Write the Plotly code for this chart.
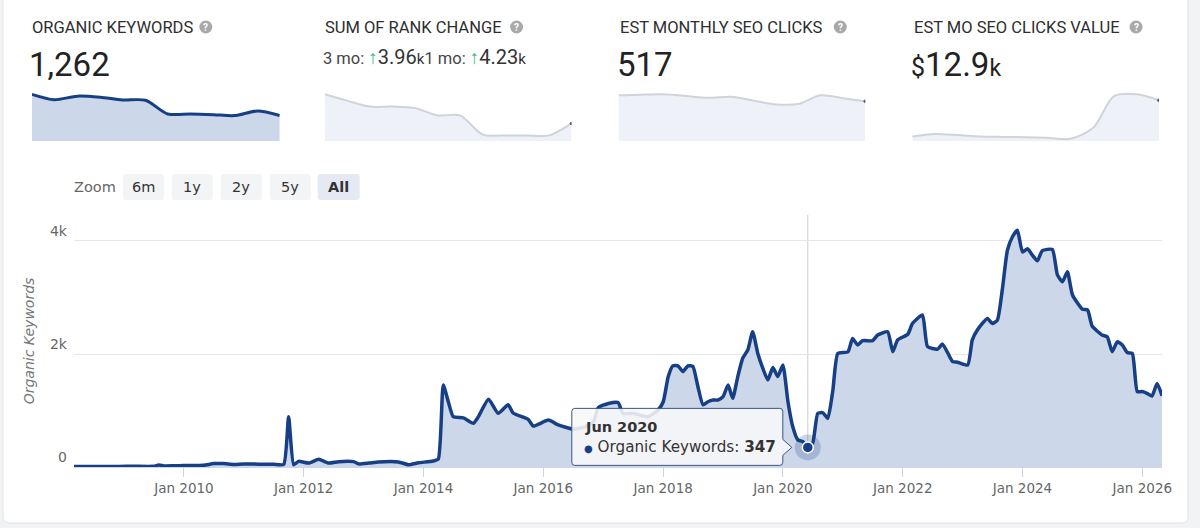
import plotly.graph_objects as go

W, H = 1200, 528
W_EFF = 1191  # horizontal pixel scale observed in the rendered page

# ---------------- data ----------------
dates = [
    "2008-03", "2008-06", "2008-09", "2008-12", "2009-03", "2009-07", "2009-08", "2009-09", "2009-11",
    "2010-01", "2010-05", "2010-07", "2010-09", "2010-11", "2011-01", "2011-04", "2011-07", "2011-09",
    "2011-10", "2011-11", "2011-12", "2012-02", "2012-04", "2012-06", "2012-08", "2012-11", "2012-12",
    "2013-02", "2013-04", "2013-08", "2013-10", "2013-12", "2014-03", "2014-04", "2014-05", "2014-06",
    "2014-07", "2014-09", "2014-11", "2014-12", "2015-02", "2015-04", "2015-06", "2015-07", "2015-10",
    "2015-11", "2016-02", "2016-04", "2016-07", "2016-09", "2016-11", "2016-12", "2017-02", "2017-04",
    "2017-05", "2017-07", "2017-10", "2017-12", "2018-01", "2018-02", "2018-03", "2018-04", "2018-05",
    "2018-06", "2018-07", "2018-08", "2018-09", "2018-10", "2018-11", "2018-12", "2019-01", "2019-02",
    "2019-03", "2019-04", "2019-05", "2019-06", "2019-07", "2019-08", "2019-09", "2019-10", "2019-11",
    "2019-12", "2020-01", "2020-02", "2020-03", "2020-04", "2020-05", "2020-06", "2020-07", "2020-08",
    "2020-09", "2020-10", "2020-11", "2020-12", "2021-02", "2021-03", "2021-04", "2021-05", "2021-07",
    "2021-08", "2021-10", "2021-11", "2021-12", "2022-02", "2022-03", "2022-05", "2022-06", "2022-08",
    "2022-09", "2022-11", "2022-12", "2023-02", "2023-03", "2023-04", "2023-06", "2023-07", "2023-08",
    "2023-09", "2023-10", "2023-11", "2023-12", "2024-01", "2024-02", "2024-03", "2024-04", "2024-05",
    "2024-07", "2024-08", "2024-09", "2024-10", "2024-11", "2025-01", "2025-02", "2025-03", "2025-05",
    "2025-06", "2025-07", "2025-08", "2025-09", "2025-10", "2025-11", "2025-12", "2026-01", "2026-02",
    "2026-03", "2026-04", "2026-05",
]
organic_keywords = [
    10, 8, 10, 10, 12, 12, 35, 20, 22,
    25, 30, 60, 60, 45, 55, 50, 48, 45,
    890, 40, 100, 70, 135, 70, 95, 95, 55,
    70, 90, 90, 40, 75, 105, 140, 1450, 1155,
    890, 870, 775, 890, 1200, 950, 1100, 955, 845,
    725, 830, 745, 670, 700, 800, 1050, 1125, 1140,
    950, 950, 890, 1010, 1150, 1600, 1790, 1790, 1690,
    1790, 1780, 1420, 1100, 1155, 1185, 1185, 1245, 1450,
    1215, 1600, 1925, 2070, 2395, 2010, 1745, 1540, 1760,
    1600, 1805, 1155, 715, 480, 450, 347, 425, 950,
    960, 860, 1360, 2010, 2040, 2275, 2160, 2235, 2235,
    2335, 2395, 2040, 2250, 2350, 2540, 2690, 2130, 2085,
    2175, 1865, 1855, 1805, 2250, 2425, 2630, 2540, 2600,
    3160, 3835, 4075, 4190, 3805, 3865, 3750, 3650, 3830,
    3850, 3400, 3280, 3455, 3045, 2790, 2780, 2495, 2335,
    2305, 2040, 2215, 2160, 2025, 2010, 1335, 1335, 1300,
    1255, 1480, 1262,
]

x_tick_vals = ["2010-01", "2012-01", "2014-01", "2016-01", "2018-01", "2020-01", "2022-01", "2024-01", "2026-01"]
x_tick_labels = ["Jan 2010", "Jan 2012", "Jan 2014", "Jan 2016", "Jan 2018", "Jan 2020", "Jan 2022", "Jan 2024", "Jan 2026"]
y_tick_vals = [0, 2000, 4000]
y_tick_labels = ["0", "2k", "4k"]

# KPI sparklines (last 12 months)
rank_change_spark = [13.3, 11.5, 9.8, 9.8, 9.4, 7.3, 7.3, 1.8, 1.6, 1.6, 1.6, 5.0]
seo_clicks_spark = [595, 604, 608, 586, 563, 577, 526, 476, 485, 595, 558, 517]
clicks_value_spark = [1.4, 2.2, 1.9, 1.4, 1.3, 1.2, 1.0, 0.7, 4.2, 14.2, 14.8, 12.9]

kpi_titles = ["ORGANIC KEYWORDS", "SUM OF RANK CHANGE", "EST MONTHLY SEO CLICKS", "EST MO SEO CLICKS VALUE"]
rank_change_3mo = "3.96"
rank_change_1mo = "4.23"
zoom_buttons = ["6m", "1y", "2y", "5y", "All"]

highlight_date = "2020-06"

# ---------------- helpers ----------------
def X(px):
    return px / W_EFF

def Y(py):
    return 1 - py / H

def rrect_path(x0, y0, x1, y1, r):
    pts = [
        ("M", [(x0 + r, y0)]), ("L", [(x1 - r, y0)]), ("Q", [(x1, y0), (x1, y0 + r)]),
        ("L", [(x1, y1 - r)]), ("Q", [(x1, y1), (x1 - r, y1)]), ("L", [(x0 + r, y1)]),
        ("Q", [(x0, y1), (x0, y1 - r)]), ("L", [(x0, y0 + r)]), ("Q", [(x0, y0), (x0 + r, y0)]),
    ]
    s = ""
    for cmd, ps in pts:
        s += cmd + " " + " ".join(f"{X(a):.5f},{Y(b):.5f}" for a, b in ps) + " "
    return s + "Z"

LINE = "#173f85"
FILL = "#ccd7ea"
KFONT = "Roboto"
CFONT = "DejaVu Sans"

fig = go.Figure()

# main area
fig.add_trace(go.Scatter(
    x=dates, y=organic_keywords, mode="lines", fill="tozeroy",
    line=dict(color=LINE, width=3.5, shape="spline", smoothing=0.5),
    fillcolor=FILL, hoverinfo="skip", xaxis="x", yaxis="y",
))

hi = dates.index(highlight_date)
fig.add_trace(go.Scatter(
    x=[dates[hi]], y=[organic_keywords[hi]], mode="markers",
    marker=dict(size=26, color="rgba(23,63,133,0.22)"), hoverinfo="skip",
))
fig.add_trace(go.Scatter(
    x=[dates[hi]], y=[organic_keywords[hi]], mode="markers",
    marker=dict(size=11, color=LINE, line=dict(color="white", width=1.5)), hoverinfo="skip",
))

# sparklines
sd = dates[-12:]
spark_sets = [
    (organic_keywords[-12:], LINE, FILL, 3, False),
    (rank_change_spark, "#cfd3da", "#eef1f8", 2, True),
    (seo_clicks_spark, "#cfd3da", "#eef1f8", 2, True),
    (clicks_value_spark, "#cfd3da", "#eef1f8", 2, True),
]
spark_x = [(32, 280), (325, 572), (619, 866), (913, 1160)]
for i, (vals, lc, fc, lw, dot) in enumerate(spark_sets):
    ax = i + 2
    fig.add_trace(go.Scatter(
        x=sd, y=vals, mode="lines", fill="tozeroy",
        line=dict(color=lc, width=lw, shape="spline", smoothing=0.8),
        fillcolor=fc, hoverinfo="skip", xaxis=f"x{ax}", yaxis=f"y{ax}",
    ))
    if dot:
        fig.add_trace(go.Scatter(
            x=[sd[-1]], y=[vals[-1]], mode="markers",
            marker=dict(size=3.5, color="#44546a"), hoverinfo="skip",
            xaxis=f"x{ax}", yaxis=f"y{ax}",
        ))

shapes = []
annotations = []

# card background
shapes.append(dict(type="path", path=rrect_path(3, -10, 1189, 523, 6), xref="paper", yref="paper",
                   fillcolor="white", line=dict(color="#dfe1e5", width=1), layer="below"))

# KPI titles + help icons
title_x = [30, 323, 619, 913]
icon_x = [206, 517, 841, 1137]
for t, tx, ix in zip(kpi_titles, title_x, icon_x):
    annotations.append(dict(text=t, x=X(tx), y=Y(27), xref="paper", yref="paper", xanchor="left",
                            yanchor="middle", showarrow=False,
                            font=dict(family=KFONT, size=16.5, color="#2e2e2e")))
    shapes.append(dict(type="circle", xref="paper", yref="paper",
                       x0=X(ix - 6.5), x1=X(ix + 6.5), y0=Y(27 + 6.5), y1=Y(27 - 6.5),
                       fillcolor="#a9a9a9", line=dict(width=0)))
    annotations.append(dict(text="<b>?</b>", x=X(ix), y=Y(27.5), xref="paper", yref="paper",
                            xanchor="center", yanchor="middle", showarrow=False,
                            font=dict(family=KFONT, size=10, color="white")))

# KPI values
annotations.append(dict(text=f"{organic_keywords[-1]:,}", x=X(27), y=Y(64), xref="paper", yref="paper",
                        xanchor="left", yanchor="middle", showarrow=False,
                        font=dict(family=KFONT, size=33, color="#222")))
annotations.append(dict(text=f"{seo_clicks_spark[-1]}", x=X(616), y=Y(64), xref="paper", yref="paper",
                        xanchor="left", yanchor="middle", showarrow=False,
                        font=dict(family=KFONT, size=33, color="#222")))
annotations.append(dict(
    text=f'<span style="font-size:25px">$</span>{clicks_value_spark[-1]}<span style="font-size:23px">k</span>',
    x=X(910), y=Y(64), xref="paper", yref="paper", xanchor="left", yanchor="middle", showarrow=False,
    font=dict(family=KFONT, size=33, color="#222")))
green = "#3dbb86"
rank_txt = (
    f'<span style="color:#444">3 mo: </span><span style="color:{green};font-size:19px"><b>↑</b></span>'
    f'<span style="font-size:20px">{rank_change_3mo}</span><span style="font-size:15px">k</span>'
    f'<span style="color:#444">1 mo: </span><span style="color:{green};font-size:19px"><b>↑</b></span>'
    f'<span style="font-size:20px">{rank_change_1mo}</span><span style="font-size:15px">k</span>'
)
annotations.append(dict(text=rank_txt, x=X(321), y=Y(57), xref="paper", yref="paper",
                        xanchor="left", yanchor="middle", showarrow=False,
                        font=dict(family=KFONT, size=16.5, color="#333")))

# zoom buttons
annotations.append(dict(text="Zoom", x=X(72), y=Y(187), xref="paper", yref="paper", xanchor="left",
                        yanchor="middle", showarrow=False, font=dict(family=CFONT, size=14.5, color="#666")))
btn_x = [(123, 164), (172, 213), (221, 262), (270, 311), (318, 360)]
for lab, (bx0, bx1) in zip(zoom_buttons, btn_x):
    active = lab == "All"
    shapes.append(dict(type="path", path=rrect_path(bx0, 174, bx1, 200, 3), xref="paper", yref="paper",
                       fillcolor="#e4e9f4" if active else "#f3f4f6", line=dict(width=0), layer="below"))
    annotations.append(dict(text=f"<b>{lab}</b>" if active else lab, x=X((bx0 + bx1) / 2), y=Y(187),
                            xref="paper", yref="paper", xanchor="center", yanchor="middle", showarrow=False,
                            font=dict(family=CFONT, size=14.5, color="#333")))

# crosshair
shapes.append(dict(type="line", xref="x", yref="y domain", x0=dates[hi], x1=dates[hi], y0=0, y1=1,
                   line=dict(color="#cccccc", width=1), layer="below"))

# tooltip box (pixel offsets from highlighted point)
tip = ("M -233,39 L -28,39 Q -25,39 -25,36 L -25,8 L -16,0 L -25,-8 L -25,-15 Q -25,-18 -28,-18 "
       "L -233,-18 Q -236,-18 -236,-15 L -236,36 Q -236,39 -233,39 Z")
shapes.append(dict(type="path", xref="x", yref="y", xsizemode="pixel", ysizemode="pixel",
                   xanchor=dates[hi], yanchor=organic_keywords[hi], path=tip,
                   fillcolor="rgba(248,248,248,0.88)", line=dict(color="#3b5685", width=1), layer="above"))
month_names = ["Jan", "Feb", "Mar", "Apr", "May", "Jun", "Jul", "Aug", "Sep", "Oct", "Nov", "Dec"]
yy, mm = dates[hi].split("-")
annotations.append(dict(text=f"<b>{month_names[int(mm) - 1]} {yy}</b>", x=dates[hi], y=organic_keywords[hi],
                        xref="x", yref="y", xanchor="left", yanchor="middle", xshift=-225, yshift=20,
                        showarrow=False, font=dict(family=CFONT, size=14.5, color="#333")))
annotations.append(dict(
    text=f'<span style="color:{LINE};font-size:10px">●</span> Organic Keywords: <b>{organic_keywords[hi]}</b>',
    x=dates[hi], y=organic_keywords[hi], xref="x", yref="y", xanchor="left", yanchor="middle",
    xshift=-226, yshift=0, showarrow=False, font=dict(family=CFONT, size=15.2, color="#333")))

layout = dict(
    width=W, height=H, margin=dict(l=0, r=0, t=0, b=0),
    paper_bgcolor="#f2f3f5", plot_bgcolor="rgba(0,0,0,0)", showlegend=False,
    shapes=shapes, annotations=annotations,
    xaxis=dict(domain=[X(74), X(1163)], range=[dates[0], dates[-1]], type="date",
               tickvals=x_tick_vals, ticktext=x_tick_labels, ticks="outside", ticklen=9,
               tickcolor="#ccd6eb", showline=True, linecolor="#ccd6eb", showgrid=False,
               tickfont=dict(family=CFONT, size=13.5, color="#666"), fixedrange=True),
    yaxis=dict(domain=[Y(467), Y(215)], range=[0, 4460], tickvals=y_tick_vals, ticktext=y_tick_labels,
               showgrid=True, gridcolor="#e6e6e6", zeroline=False, ticklabelposition="outside top",
               ticklabelstandoff=6,
               tickfont=dict(family=CFONT, size=14, color="#666"), fixedrange=True,
               title=dict(text="Organic Keywords", standoff=12,
                          font=dict(family=CFONT, size=14, color="#777", style="italic"))),
)
for i, (vals, *_rest) in enumerate(spark_sets):
    ax = i + 2
    x0, x1 = spark_x[i]
    layout[f"xaxis{ax}"] = dict(domain=[X(x0), X(x1)], range=[sd[0], sd[-1]], type="date", visible=False,
                                anchor=f"y{ax}", fixedrange=True)
    layout[f"yaxis{ax}"] = dict(domain=[Y(141), Y(92)], range=[0, max(vals) * 1.05], visible=False,
                                anchor=f"x{ax}", fixedrange=True)

fig.update_layout(**layout)
fig.write_html("out.html")
